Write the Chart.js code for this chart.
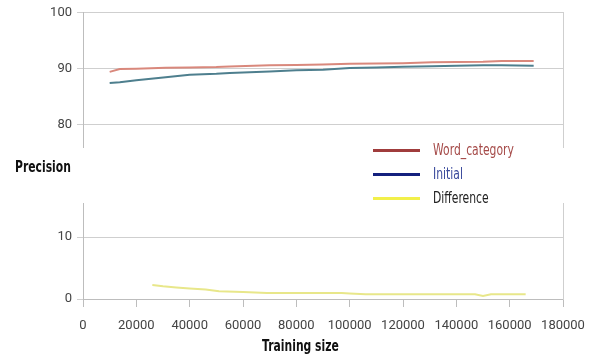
<!DOCTYPE html>
<html>
<head>
<meta charset="utf-8">
<script src="https://cdn.jsdelivr.net/npm/chart.js@4.4.0/dist/chart.umd.min.js"></script>
<style>
  body { margin: 0; background: #fff; width: 590px; height: 360px; position: relative; overflow: hidden;
         font-family: 'DejaVu Sans', sans-serif; }
  canvas { position: absolute; left: 0; }
  #top { top: 0; }
  #bottom { top: 190px; }
  .axis-title { position: absolute; font-weight: bold; font-size: 15px; color: #111; white-space: nowrap;
                transform: scaleX(0.72); transform-origin: left center; }
  #legend { position: absolute; left: 373px; top: 138px; font-size: 15px; }
  .item { display: flex; align-items: center; height: 24px; }
  .item .swatch { width: 47px; height: 3px; margin-right: 13px; flex: none; }
  .item .name { display: inline-block; white-space: nowrap; transform: scaleX(0.72); transform-origin: left center; }
</style>
</head>
<body>
<canvas id="top" width="590" height="160"></canvas>
<canvas id="bottom" width="590" height="170"></canvas>
<div class="axis-title" style="left:15px; top:158px;">Precision</div>
<div class="axis-title" style="left:262px; top:337px;">Training size</div>
<div id="legend"></div>
<script>
// training size (x) for the two precision curves
const trainingSize = [10000, 13800, 20000, 31000, 40000, 50000, 55000, 70000, 80000, 90000,
                      100000, 110000, 120000, 131000, 140000, 150000, 157000, 169000];
const wordCategory = [89.45, 89.95, 90.0, 90.2, 90.25, 90.3, 90.4, 90.65, 90.7, 90.75,
                      90.9, 90.95, 91.0, 91.15, 91.2, 91.25, 91.4, 91.4];
const initial = [87.45, 87.6, 87.95, 88.5, 88.95, 89.1, 89.25, 89.5, 89.75, 89.85,
                 90.15, 90.25, 90.35, 90.45, 90.55, 90.65, 90.65, 90.55];

// difference curve has its own x values
const diffSize = [26000, 30000, 35000, 40000, 46000, 51000, 60000, 69000, 80000, 90000, 97000,
                  100000, 106000, 120000, 130000, 140000, 147000, 150000, 153000, 160000, 166000];
const difference = [2.25, 2.05, 1.87, 1.7, 1.54, 1.26, 1.15, 0.98, 0.98, 0.98, 0.98,
                    0.9, 0.77, 0.77, 0.77, 0.77, 0.77, 0.5, 0.77, 0.77, 0.77];

const xTicks = [0, 20000, 40000, 60000, 80000, 100000, 120000, 140000, 160000, 180000];
const topTicks = [80, 90, 100];
const bottomTicks = [0, 10];
const seriesNames = ['Word_category', 'Initial', 'Difference'];

const lineColors = ['#d9887c', '#4e7f8e', '#e8e78a'];
const legendColors = ['#a03c3c', '#14207e', '#f2f04a'];
const legendText = ['#a54a48', '#3a4a9c', '#222'];

const font = { family: 'Roboto', size: 13 };
const pts = (xs, ys) => xs.map((x, i) => ({ x: x, y: ys[i] }));

function yAxis(min, max, ticks) {
  return {
    min: min, max: max,
    afterBuildTicks: s => { s.ticks = ticks.map(v => ({ value: v })); },
    afterFit: s => { s.width = 83; },
    grid: { color: '#cfcfcf', tickLength: 6 },
    border: { color: '#bdbdbd' },
    ticks: { color: '#444', font: font, padding: 5, callback: v => String(v) }
  };
}
function rightBorder(min, max) {
  return {
    position: 'right', min: min, max: max,
    ticks: { display: false }, grid: { display: false },
    border: { color: '#cfcfcf' },
    afterFit: s => { s.width = 0; }
  };
}
function line(i, data) {
  return { label: seriesNames[i], data: data, borderColor: lineColors[i], borderWidth: 2, pointRadius: 0 };
}

new Chart(document.getElementById('top'), {
  type: 'line',
  data: { datasets: [line(0, pts(trainingSize, wordCategory)), line(1, pts(trainingSize, initial))] },
  options: {
    responsive: false, animation: false,
    layout: { padding: { top: 12, right: 27, bottom: 7, left: 0 } },
    plugins: { legend: { display: false }, tooltip: { enabled: false } },
    scales: {
      x: { type: 'linear', min: 0, max: 180000, display: false },
      y: yAxis(76, 100, topTicks),
      y2: rightBorder(76, 100)
    }
  }
});

new Chart(document.getElementById('bottom'), {
  type: 'line',
  data: { datasets: [line(2, pts(diffSize, difference))] },
  options: {
    responsive: false, animation: false,
    layout: { padding: { top: 13, right: 27, bottom: 0, left: 0 } },
    plugins: { legend: { display: false }, tooltip: { enabled: false } },
    scales: {
      x: {
        type: 'linear', min: 0, max: 180000,
        afterBuildTicks: s => { s.ticks = xTicks.map(v => ({ value: v })); },
        afterFit: s => { s.height = 61; s.paddingLeft = 0; s.paddingRight = 0; },
        grid: { drawOnChartArea: false, tickLength: 8, color: '#bdbdbd' },
        border: { color: '#bdbdbd' },
        ticks: { color: '#444', font: font, padding: 11, maxRotation: 0, autoSkip: false, callback: v => String(v) }
      },
      y: yAxis(0, 15.5, bottomTicks),
      y2: rightBorder(0, 15.5)
    }
  }
});

// legend
const legend = document.getElementById('legend');
seriesNames.forEach((name, i) => {
  const item = document.createElement('div');
  item.className = 'item';
  item.innerHTML = '<span class="swatch" style="background:' + legendColors[i] + '"></span>' +
                   '<span class="name" style="color:' + legendText[i] + '">' + name + '</span>';
  legend.appendChild(item);
});
</script>
</body>
</html>
